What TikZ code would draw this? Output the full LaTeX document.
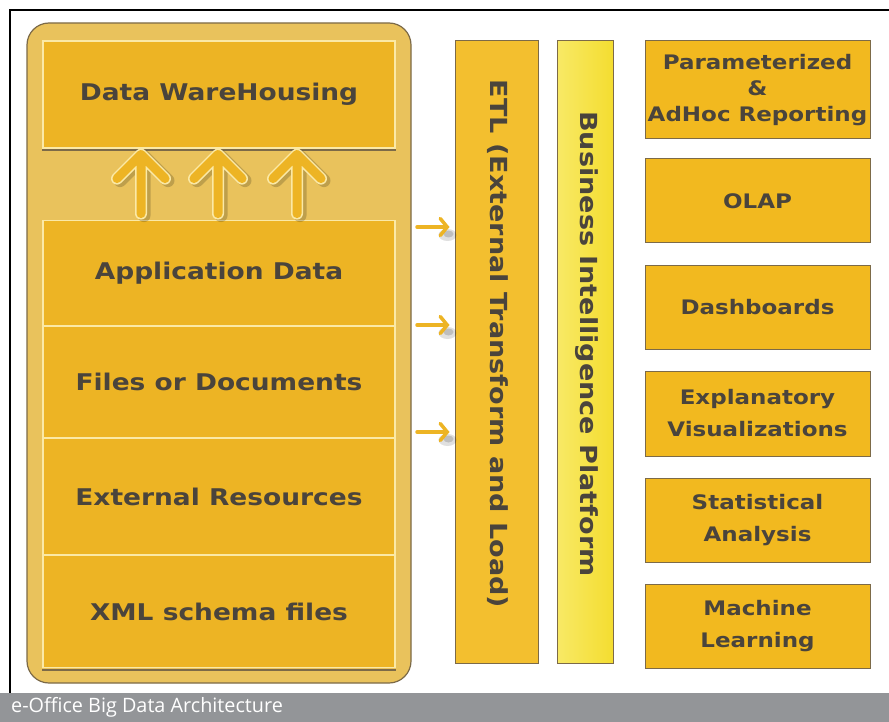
\documentclass[tikz,border=0pt]{standalone}
\usepackage{fontspec}
\newfontfamily\boxfont{DejaVu Sans}[FakeStretch=1.15]
\newfontfamily\capfont{Open Sans}
\usetikzlibrary{positioning,arrows.meta,calc}
\definecolor{panelgold}{HTML}{E9C25C}
\definecolor{srcgold}{HTML}{EDB424}
\definecolor{cream}{HTML}{FBE9A6}
\definecolor{edgebrown}{HTML}{7C6A48}
\definecolor{etlgold}{HTML}{F3BF2F}
\definecolor{biyellow}{HTML}{F4DD30}
\definecolor{bilight}{HTML}{F8E966}
\definecolor{outgold}{HTML}{F2B91F}
\definecolor{inkgray}{HTML}{4A443C}
\definecolor{capgray}{HTML}{939598}
\tikzstyle{panelbox}=[rectangle, rounded corners=22pt, fill=panelgold, draw=edgebrown,
                      line width=1.2pt, minimum width=384pt, minimum height=660pt]
\tikzstyle{srcbox}=[rectangle, fill=srcgold, draw=cream, line width=1.2pt,
                    minimum width=352pt, inner sep=0pt, text=inkgray,
                    font=\boxfont\bfseries\fontsize{23}{27}\selectfont]
\tikzstyle{colbox}=[rectangle, draw=edgebrown, line width=1pt, minimum height=622pt, inner sep=0pt]
\tikzstyle{coltext}=[rotate=-90, text=inkgray, font=\boxfont\bfseries\fontsize{23.5}{28}\selectfont]
\tikzstyle{outbox}=[rectangle, fill=outgold, draw=edgebrown, line width=1pt,
                    minimum width=225pt, minimum height=84pt, inner sep=0pt, align=center,
                    text=inkgray, font=\boxfont\bfseries\fontsize{20}{32}\selectfont]
\tikzstyle{liftarrow}=[draw=cream, double=srcgold, double distance=9pt, line width=1.5pt,
                       line cap=round, line join=round]
\tikzstyle{liftshadow}=[draw=black, opacity=.18, line width=13pt, line cap=round, line join=round]
\tikzstyle{feedarrow}=[draw=srcgold, line width=3.5pt, line cap=round,
                       -{Straight Barb[length=7pt,width=17pt,line cap=round]}, shorten >=5pt]

\begin{document}
\begin{tikzpicture}[x=1pt, y=-1pt, node distance=0pt]
\useasboundingbox (0,0) rectangle (889,722);
\fill[white] (0,0) rectangle (889,722);

% frame and caption bar
\draw[line width=1.2pt] (10,693) -- (10,10) -- (889,10);
\fill[capgray] (0,693) rectangle (889,722);
\node (caption) [anchor=west, text=white, inner sep=0pt,
  font=\capfont\fontsize{19.8}{22}\selectfont] at (11,707) {e-Office Big Data Architecture};

% sources
\node (panel) [panelbox] at (219,353) {};
\node (dwh) [srcbox, minimum height=107pt] at (219,94.5) {Data WareHousing};
\node (apps) [srcbox, minimum height=105pt, below=71pt of dwh] {Application Data};
\node (files) [srcbox, minimum height=111pt, below=of apps] {Files or Documents};
\node (extres) [srcbox, minimum height=116pt, below=of files] {External Resources};
\node (xmlsch) [srcbox, minimum height=112pt, below=of extres] {XML schema files};
\draw[edgebrown, line width=1.5pt] ($(dwh.south west)+(0,1.5)$) -- ($(dwh.south east)+(0,1.5)$);
\draw[edgebrown, line width=1.5pt] ($(xmlsch.south west)+(0,1.5)$) -- ($(xmlsch.south east)+(0,1.5)$);

\foreach \x in {141,218,297} {
  \draw[liftshadow] ($(apps.north -| \x,0)+(3,-4)$) -- ($(dwh.south -| \x,0)+(3,8)$)
     -- ++(-24,24) ++(24,-24) -- ++(24,24);
  \draw[liftarrow] ($(apps.north -| \x,0)+(0,-6)$) -- ($(dwh.south -| \x,0)+(0,6)$)
     -- ++(-24,24) ++(24,-24) -- ++(24,24);
}

% ETL and BI columns
\node (etl) [colbox, fill=etlgold, minimum width=83pt] at (496.5,352) {};
\node (etltext) [coltext] at (497.5,344) {ETL (External Transform and Load)};
\node (bip) [colbox, left color=bilight, right color=biyellow, minimum width=56pt] at (585,352) {};
\node (biptext) [coltext] at (587,344) {Business Intelligence Platform};

\coordinate (in1) at (417,227);
\coordinate (in2) at (417,325);
\coordinate (in3) at (417,432);
\foreach \c in {in1,in2,in3} {
  \fill[black, opacity=.12] ($(\c -| etl.west)+(-7,8)$) ellipse (9pt and 6pt);
  \fill[black, opacity=.15] ($(\c -| etl.west)+(-6,7)$) ellipse (5pt and 3.5pt);
  \draw[feedarrow] (\c) -- (\c -| etl.west);
}

% outputs
\node (rep) [outbox, minimum height=98pt, font=\boxfont\bfseries\fontsize{20}{26}\selectfont]
  at (757.5,90) {Parameterized\\\&\\AdHoc Reporting};
\node (olap) [outbox, below=19pt of rep] {OLAP};
\node (dash) [outbox, below=21pt of olap] {Dashboards};
\node (expl) [outbox, minimum height=85pt, below=21pt of dash] {Explanatory\\Visualizations};
\node (stat) [outbox, below=21pt of expl] {Statistical\\Analysis};
\node (mlrn) [outbox, below=21pt of stat] {Machine\\Learning};

\end{tikzpicture}
\end{document}
